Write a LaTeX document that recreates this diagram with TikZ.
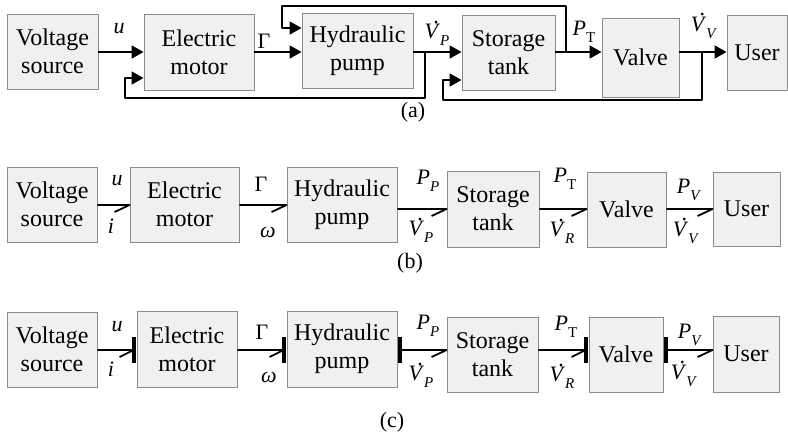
\documentclass[tikz,border=0pt]{standalone}
\usepackage{fontspec}
\setmainfont{Liberation Serif}
\usetikzlibrary{arrows.meta,calc}
\newcommand\Vd{\textit{V}\llap{\raisebox{0.72em}[0pt][0pt]{.}\hspace{0.06em}}}
\newcommand\sbs[1]{\raisebox{-0.3em}{\fontsize{15}{15}\selectfont #1}}
\begin{document}
\begin{tikzpicture}[x=1pt,y=-1pt,
 blk/.style={draw=black!45,fill=black!6,line width=0.9pt,align=center,inner sep=0pt,font=\fontsize{24}{28}\selectfont},
 ln/.style={line width=1.8pt,line join=round},
 arr/.style={ln,-{Triangle[length=12pt,width=13pt]}},
 lab/.style={font=\fontsize{22}{24}\selectfont,inner sep=0pt},
 cst/.style={line width=4pt}]
\useasboundingbox (0,0) rectangle (788,440);
% ---------- row (a)
\node[blk,minimum width=91pt,minimum height=75pt] (vsA) at (52.5,51.5) {Voltage\\source};
\node[blk,minimum width=110pt,minimum height=76pt] (emA) at (199,52) {Electric\\motor};
\node[blk,minimum width=111pt,minimum height=75pt] (hpA) at (357.5,50.5) {Hydraulic\\pump};
\node[blk,minimum width=93pt,minimum height=75pt] (stA) at (508.5,52.5) {Storage\\tank};
\node[blk,minimum width=77pt,minimum height=79pt] (vaA) at (640.5,57.5) {Valve};
\node[blk,minimum width=60pt,minimum height=75pt] (usA) at (757,52.5) {User};
\coordinate (yA) at (0,52);
\coordinate (f1) at (0,78);
\coordinate (f2) at (0,28);
\coordinate (f3) at (0,80);
\coordinate (b1) at (425,52);
\coordinate (b2) at (566,52);
\coordinate (b3) at (702,52);
\draw[arr] (vsA.east|-yA) -- (emA.west|-yA);
\draw[arr] (emA.east|-yA) -- (hpA.west|-yA);
\draw[arr] (hpA.east|-yA) -- (stA.west|-yA);
\draw[arr] (stA.east|-yA) -- (vaA.west|-yA);
\draw[arr] (vaA.east|-yA) -- (usA.west|-yA);
\draw[arr] (b1) -- (425,98) -- (125,98) -- (125,78) -- (emA.west|-f1);
\draw[arr] (b2) -- (566,6) -- (282,6) -- (282,28) -- (hpA.west|-f2);
\draw[arr] (b3) -- (702,100) -- (443,100) -- (443,80) -- (stA.west|-f3);
\node[lab] (la1) at (119,29) {\textit{u}};
\node[lab] (la2) at (264,41) {Γ};
\node[lab] (la3) at (437,35) {\Vd\sbs{\textit{P}}};
\node[lab] (la4) at (584,32) {\textit{P}\sbs{T}};
\node[lab] (la5) at (704,28) {\Vd\sbs{\textit{V}}};
\node[lab] (capA) at (413,112) {(a)};
% ---------- row (b)
\node[blk,minimum width=90pt,minimum height=75pt] (vsB) at (52,204.5) {Voltage\\source};
\node[blk,minimum width=109pt,minimum height=75pt] (emB) at (184.5,204.5) {Electric\\motor};
\node[blk,minimum width=110pt,minimum height=75pt] (hpB) at (342,204.5) {Hydraulic\\pump};
\node[blk,minimum width=92pt,minimum height=76pt] (stB) at (493,209) {Storage\\tank};
\node[blk,minimum width=79pt,minimum height=75pt] (vaB) at (626.5,209.5) {Valve};
\node[blk,minimum width=67pt,minimum height=74pt] (usB) at (746.5,209) {User};
\coordinate (yB1) at (0,205);
\coordinate (yB2) at (0,209);
\draw[ln] (vsB.east|-yB1) -- (emB.west|-yB1) -- ++(-15,7);
\draw[ln] (emB.east|-yB1) -- (hpB.west|-yB1) -- ++(-15,7);
\draw[ln] (hpB.east|-yB2) -- (stB.west|-yB2) -- ++(-15,7);
\draw[ln] (stB.east|-yB2) -- (vaB.west|-yB2) -- ++(-15,7);
\draw[ln] (vaB.east|-yB2) -- (usB.west|-yB2) -- ++(-15,7);
\node[lab] (lb1) at (117,181) {\textit{u}};
\node[lab] (lb2) at (111,226) {\textit{i}};
\node[lab] (lb3) at (261,184) {Γ};
\node[lab] (lb4) at (268,232) {\textit{ω}};
\node[lab] (lb5) at (428,181) {\textit{P}\sbs{\textit{P}}};
\node[lab] (lb6) at (421,232) {\Vd\sbs{\textit{P}}};
\node[lab] (lb7) at (565,179) {\textit{P}\sbs{T}};
\node[lab] (lb8) at (562,233) {\Vd\sbs{\textit{R}}};
\node[lab] (lb9) at (689,190) {\textit{P}\sbs{\textit{V}}};
\node[lab] (lb10) at (686,233) {\Vd\sbs{\textit{V}}};
\node[lab] (capB) at (410,263) {(b)};
% ---------- row (c)
\node[blk,minimum width=90pt,minimum height=75pt] (vsC) at (52,349.5) {Voltage\\source};
\node[blk,minimum width=100pt,minimum height=76pt] (emC) at (187,349) {Electric\\motor};
\node[blk,minimum width=110pt,minimum height=76pt] (hpC) at (342,349) {Hydraulic\\pump};
\node[blk,minimum width=91pt,minimum height=75pt] (stC) at (492.5,354.5) {Storage\\tank};
\node[blk,minimum width=74pt,minimum height=75pt] (vaC) at (626,354.5) {Valve};
\node[blk,minimum width=66pt,minimum height=76pt] (usC) at (746,354) {User};
\coordinate (yC) at (0,350);
\coordinate (t1) at (emC.west|-yC);
\coordinate (t2) at (hpC.west|-yC);
\coordinate (t3) at (hpC.east|-yC);
\coordinate (t4) at (vaC.west|-yC);
\coordinate (t5) at (vaC.east|-yC);
\coordinate (c1) at ($(t1)+(-3,0)$);
\coordinate (c2) at ($(t2)+(-3,0)$);
\coordinate (c3) at ($(t3)+(3,0)$);
\coordinate (c4) at ($(t4)+(-3,0)$);
\coordinate (c5) at ($(t5)+(3,0)$);
\draw[ln] (vsC.east|-yC) -- (c1) -- ++(-14,7);
\draw[ln] (emC.east|-yC) -- (c2) -- ++(-14,7);
\draw[ln] (c3) -- (stC.west|-yC) -- ++(-15,7);
\draw[ln] (stC.east|-yC) -- (c4) -- ++(-14,7);
\draw[ln] (c5) -- (usC.west|-yC) -- ++(-15,7);
\foreach \c in {c1,c2,c3,c4,c5}{\draw[cst] ($(\c)+(0,-13)$) -- ($(\c)+(0,13)$);}
\node[lab] (lc1) at (117,327) {\textit{u}};
\node[lab] (lc2) at (111,369) {\textit{i}};
\node[lab] (lc3) at (262,332) {Γ};
\node[lab] (lc4) at (269,377) {\textit{ω}};
\node[lab] (lc5) at (428,326) {\textit{P}\sbs{\textit{P}}};
\node[lab] (lc6) at (421,377) {\Vd\sbs{\textit{P}}};
\node[lab] (lc7) at (566,327) {\textit{P}\sbs{T}};
\node[lab] (lc8) at (562,378) {\Vd\sbs{\textit{R}}};
\node[lab] (lc9) at (690,335) {\textit{P}\sbs{\textit{V}}};
\node[lab] (lc10) at (684,376) {\Vd\sbs{\textit{V}}};
\node[lab] (capC) at (392,422) {(c)};
\end{tikzpicture}
\end{document}
